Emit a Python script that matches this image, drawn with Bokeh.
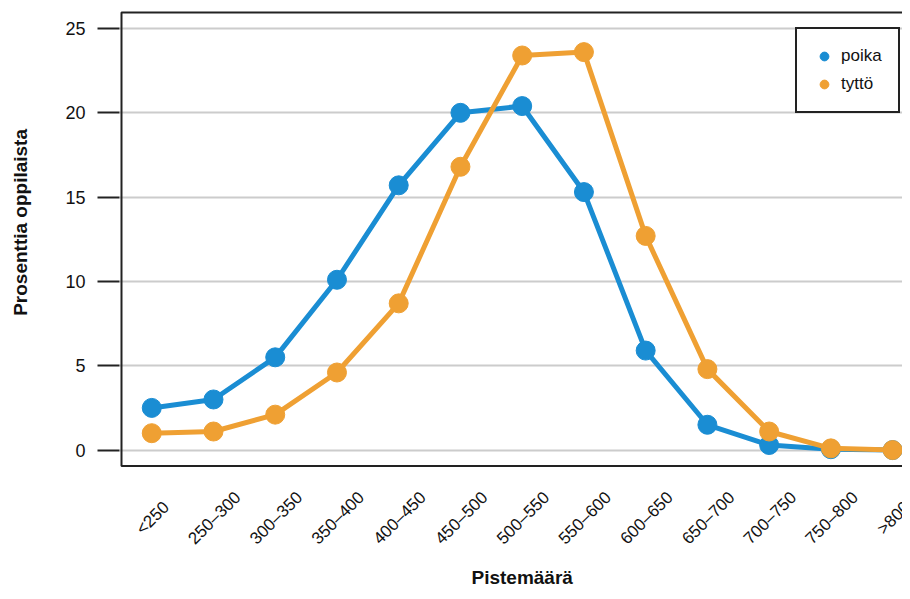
import math
from bokeh.plotting import figure
from bokeh.models import (ColumnDataSource, FixedTicker, Legend, LegendItem, Range1d, Label,
                          LabelSet, BoxAnnotation)
from bokeh.core.properties import value
from bokeh.embed import file_html
from bokeh.resources import INLINE

categories = ["<250", "250–300", "300–350", "350–400", "400–450", "450–500", "500–550",
              "550–600", "600–650", "650–700", "700–750", "750–800", ">800"]
poika = [2.5, 3.0, 5.5, 10.1, 15.7, 20.0, 20.4, 15.3, 5.9, 1.5, 0.3, 0.05, 0.0]
tytto = [1.0, 1.1, 2.1, 4.6, 8.7, 16.8, 23.4, 23.6, 12.7, 4.8, 1.1, 0.1, 0.0]
y_ticks = [0, 5, 10, 15, 20, 25]

BLUE = "#1a8dd3"
ORANGE = "#efa033"
FONT = "Liberation Sans"

# the drawn plot box (data units)
X_START, X_END = -0.49, 12.16
Y_START, Y_END = -0.95, 25.95
# pixel scale of the reference: 61.75 px per category, 16.92 px per percent
PX_X, PX_Y = 61.75, 16.92
# frame is extended below the box so that the rotated labels can live inside it
FRAME_BOTTOM = Y_END - (590 - 10) / PX_Y

x_idx = list(range(len(categories)))

p = figure(width=902, height=590, output_backend="svg", toolbar_location=None,
           x_range=Range1d(X_START - 2 / PX_X, X_END),
           y_range=Range1d(FRAME_BOTTOM, Y_END + 2 / PX_Y),
           min_border_left=119, min_border_right=0, min_border_top=10, min_border_bottom=0)

p.outline_line_color = None
p.background_fill_color = "white"
p.border_fill_color = "white"

p.xgrid.grid_line_color = None
p.ygrid.grid_line_color = "#cccccc"
p.ygrid.grid_line_width = 2
p.ygrid.ticker = FixedTicker(ticks=y_ticks)

p.yaxis.ticker = FixedTicker(ticks=y_ticks)
p.yaxis.axis_line_color = None
p.yaxis.major_tick_out = 22
p.yaxis.major_tick_in = 0
p.yaxis.major_tick_line_width = 2
p.yaxis.major_tick_line_color = "#222222"
p.yaxis.minor_tick_line_color = None
p.yaxis.major_label_standoff = 12
p.yaxis.major_label_text_font = FONT
p.yaxis.major_label_text_font_size = "18px"
p.yaxis.major_label_text_color = "#111111"

p.xaxis.visible = False

# plot box
p.add_layout(BoxAnnotation(left=X_START, right=X_END + 1, bottom=Y_START, top=Y_END,
                           fill_alpha=0, line_color="#222222", line_alpha=1.0, line_width=2))

# x tick labels, centred on each category, rotated 45 degrees
lab_src = ColumnDataSource(dict(x=x_idx, y=[Y_START] * len(categories), text=categories))
p.add_layout(LabelSet(x="x", y="y", text="text", source=lab_src, x_offset=1, y_offset=-52,
                      angle=math.pi / 4, text_align="center", text_baseline="middle",
                      text_font=value(FONT), text_font_size=value("17px"),
                      text_color="#111111"))

# axis titles
p.add_layout(Label(x=(len(categories) - 1) / 2, y=Y_START, y_offset=-111,
                   text="Pistemäärä", text_align="center", text_baseline="middle",
                   text_font=FONT, text_font_size="19px", text_font_style="bold",
                   text_color="#111111"))
p.add_layout(Label(x=X_START, y=13.5, x_offset=-101, angle=math.pi / 2,
                   text="Prosenttia oppilaista", text_align="center", text_baseline="middle",
                   text_font=FONT, text_font_size="19px", text_font_style="bold",
                   text_color="#111111"), "left")

src = ColumnDataSource(dict(x=x_idx, poika=poika, tytto=tytto))

p.line("x", "poika", source=src, line_color=BLUE, line_width=5)
sb = p.scatter("x", "poika", source=src, size=19, fill_color=BLUE, line_color=BLUE)
p.line("x", "tytto", source=src, line_color=ORANGE, line_width=5)
so = p.scatter("x", "tytto", source=src, size=19, fill_color=ORANGE, line_color=ORANGE)

legend = Legend(items=[LegendItem(label="poika", renderers=[sb]),
                       LegendItem(label="tyttö", renderers=[so])],
                location=(676, 477), padding=16, spacing=6,
                glyph_width=22, glyph_height=22, label_standoff=6,
                label_text_font=FONT, label_text_font_size="17px",
                label_text_color="#111111",
                border_line_color="#222222", border_line_width=2, border_line_alpha=1.0,
                background_fill_alpha=1.0)
p.add_layout(legend, "center")

open("out.html", "w").write(file_html(p, INLINE))
